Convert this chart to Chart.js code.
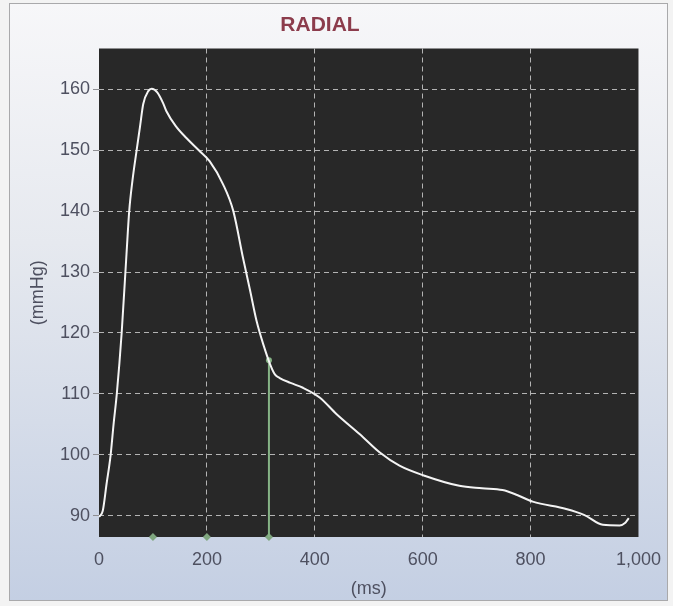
<!DOCTYPE html>
<html><head><meta charset="utf-8">
<script src="https://cdn.jsdelivr.net/npm/chart.js@4.4.1/dist/chart.umd.min.js"></script>
<style>html,body{margin:0;padding:0;background:#f3f3f3;}canvas{display:block;}</style>
</head><body>
<canvas id="c" width="673" height="606"></canvas>
<script>
const chartTitle = 'RADIAL';
const xAxisTitle = '(ms)';
const yAxisTitle = '(mmHg)';
const timeMs =   [0, 7, 14, 21.6, 27, 33, 42, 51, 56, 62, 69.8, 75.9, 82, 91.3, 97.6, 108, 119, 125, 142, 162, 185, 205, 230, 249, 267, 280, 292, 305, 317, 326, 335, 355, 378, 409, 440, 483, 520, 557, 602, 668, 710, 748, 775, 804, 866, 900, 934, 965, 975, 982];
const pressure = [89.8, 90.8, 95.2, 100, 105, 110, 120, 133, 140, 145, 150, 153.8, 157.6, 159.7, 160.1, 159.5, 157.7, 156.4, 154, 152, 150, 148.2, 144.4, 140, 132.3, 127, 122, 118, 114.9, 113.2, 112.6, 111.8, 111, 109.4, 106.7, 103.4, 100.4, 98.2, 96.6, 94.9, 94.5, 94.2, 93.4, 92.3, 91.1, 90.1, 88.5, 88.4, 88.8, 89.6];
const xTickValues = [0, 200, 400, 600, 800, 1000];
const xTickLabels = ['0', '200', '400', '600', '800', '1,000'];
const yTickValues = [90, 100, 110, 120, 130, 140, 150, 160];
const yTickLabels = ['90', '100', '110', '120', '130', '140', '150', '160'];
const markerTimes = [100, 200, 315];
const cursorTime = 315;
const cursorPressure = 115.5;
const xRange = [0, 1000];
const yRange = [86.5, 166.7];

Chart.defaults.font.family = "'Liberation Sans', Arial, sans-serif";

const bgPlugin = {
  id: 'bg',
  beforeDraw(chart) {
    const {ctx, chartArea: a, width, height} = chart;
    ctx.save();
    ctx.fillStyle = '#f3f3f3';
    ctx.fillRect(0, 0, width, height);
    const g = ctx.createLinearGradient(0, 3, 0, 601);
    g.addColorStop(0, '#f7f7f9');
    g.addColorStop(0.4, '#e6e9ef');
    g.addColorStop(1, '#c4cfe3');
    ctx.fillStyle = g;
    ctx.fillRect(9.5, 3.5, 658, 597);
    ctx.strokeStyle = '#a9a9ab';
    ctx.lineWidth = 1;
    ctx.strokeRect(9.5, 3.5, 658, 597);
    ctx.fillStyle = '#282828';
    ctx.fillRect(a.left, a.top, a.right - a.left, a.bottom - a.top);
    ctx.restore();
  }
};

const gridColor = 'rgba(215,215,215,0.8)';
const labelColor = '#4e5060';

new Chart(document.getElementById('c'), {
  type: 'line',
  data: {
    datasets: [
      {
        data: timeMs.map((t, i) => ({x: t, y: pressure[i]})),
        borderColor: '#f4f4f4',
        borderWidth: 2,
        pointRadius: 0,
        cubicInterpolationMode: 'monotone',
        fill: false,
        order: 0
      },
      {
        data: [{x: cursorTime, y: yRange[0]}, {x: cursorTime, y: cursorPressure}],
        borderColor: '#86b486',
        borderWidth: 2,
        pointRadius: [0, 3],
        pointBackgroundColor: '#86b486',
        pointBorderWidth: 0,
        fill: false,
        order: 1
      },
      {
        data: markerTimes.map(t => ({x: t, y: yRange[0]})),
        showLine: false,
        pointStyle: 'rectRot',
        pointRadius: 4,
        pointBackgroundColor: '#7fa67f',
        pointBorderColor: '#7fa67f',
        pointBorderWidth: 0,
        clip: false,
        order: 2
      }
    ]
  },
  options: {
    responsive: false,
    animation: false,
    devicePixelRatio: 1,
    layout: {padding: {left: 0, right: 33, top: 0, bottom: 0}},
    plugins: {
      legend: {display: false},
      tooltip: {enabled: false},
      title: {
        display: true,
        text: chartTitle,
        color: '#8c3c4c',
        font: {size: 21, weight: 'bold'},
        padding: {top: 12.4, bottom: 10.9}
      }
    },
    scales: {
      x: {
        type: 'linear',
        min: xRange[0],
        max: xRange[1],
        afterBuildTicks: s => { s.ticks = xTickValues.map(v => ({value: v})); },
        afterFit: s => { s.height = 69; },
        ticks: {
          autoSkip: false,
          maxRotation: 0,
          padding: 12,
          color: labelColor,
          font: {size: 18},
          callback: v => { const i = xTickValues.indexOf(v); return i >= 0 ? xTickLabels[i] : ''; }
        },
        grid: {
          drawTicks: false,
          lineWidth: 1,
          color: c => (c.tick && (c.tick.value === xRange[0] || c.tick.value === xRange[1])) ? 'rgba(0,0,0,0)' : gridColor
        },
        border: {display: false, dash: [5, 4]},
        title: {display: true, text: xAxisTitle, color: labelColor, font: {size: 18}, padding: {top: 0, bottom: 6}}
      },
      y: {
        type: 'linear',
        min: yRange[0],
        max: yRange[1],
        afterBuildTicks: s => { s.ticks = yTickValues.map(v => ({value: v})); },
        afterFit: s => { s.width = 99; },
        ticks: {
          padding: 3,
          color: labelColor,
          font: {size: 18},
          callback: v => { const i = yTickValues.indexOf(v); return i >= 0 ? yTickLabels[i] : ''; }
        },
        grid: {
          drawTicks: true,
          tickLength: 6,
          tickColor: '#8e8e92',
          tickBorderDash: [],
          lineWidth: 1,
          color: gridColor
        },
        border: {display: false, dash: [5, 4]},
        title: {display: true, text: yAxisTitle, color: labelColor, font: {size: 18}, padding: {top: 27, bottom: 0}}
      }
    }
  },
  plugins: [bgPlugin]
});
</script>
</body></html>
